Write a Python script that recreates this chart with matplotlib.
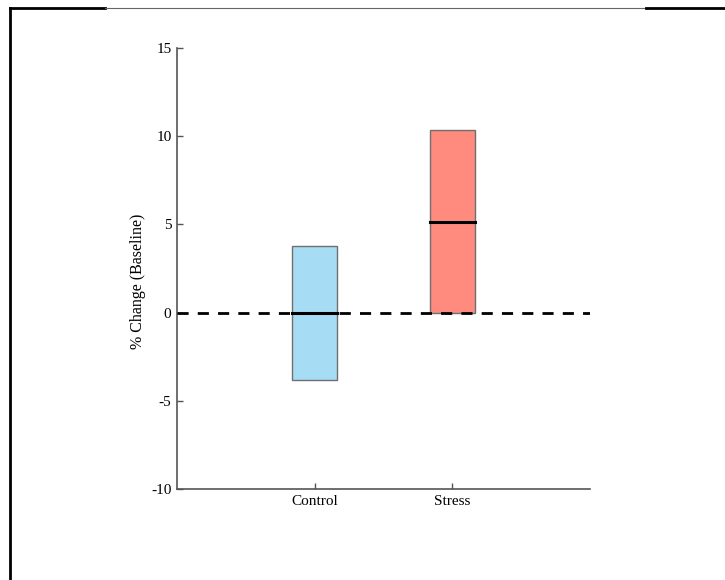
import matplotlib
matplotlib.use('Agg')
import matplotlib.pyplot as plt
from matplotlib.lines import Line2D
from matplotlib.patches import Rectangle

# values
groups = ['Control', 'Stress']
lower = [-3.8, 0.0]
upper = [3.8, 10.37]
median = [0.0, 5.15]
colors = ['#A6DDF4', '#FF8A7E']
yticks = [-10, -5, 0, 5, 10, 15]

plt.rcParams['font.family'] = ['Liberation Serif', 'DejaVu Serif']

fig = plt.figure(figsize=(7.25, 5.8), dpi=100)
ax = fig.add_axes([177/725, 1-489/580, (590-177)/725, (489-48)/580])

pos = [1, 2]
w = 0.33
for x, lo, hi, med, c in zip(pos, lower, upper, median, colors):
    ax.add_patch(Rectangle((x - w/2, lo), w, hi - lo, facecolor=c,
                           edgecolor='#6f6f6f', linewidth=1.0, zorder=2))
    ax.plot([x - w/2, x + w/2], [med, med], color='black', lw=2.2, zorder=4)

ax.plot([0, 3], [0, 0], color='black', lw=2, dashes=(4, 3.3), zorder=3)

ax.set_xlim(0, 3)
ax.set_ylim(-10, 15)
ax.set_xticks(pos)
ax.set_xticklabels(groups, fontsize=11)
ax.set_yticks(yticks)
ax.set_yticklabels([str(t) for t in yticks], fontsize=11)
ax.set_ylabel('% Change (Baseline)', fontsize=11.5)
ax.yaxis.set_label_coords(-0.075, 0.47)
ax.tick_params(direction='in', length=4, width=1, color='#555555', pad=4)

for s in ['top', 'right']:
    ax.spines[s].set_visible(False)
for s in ['left', 'bottom']:
    ax.spines[s].set_color('#555555')
    ax.spines[s].set_linewidth(1.2)

# screenshot frame lines
fig.add_artist(Line2D([10/725, 10/725], [0, 1-8/580], color='black', lw=2, transform=fig.transFigure))
fig.add_artist(Line2D([10/725, 105/725], [1-8/580, 1-8/580], color='black', lw=2, transform=fig.transFigure))
fig.add_artist(Line2D([105/725, 646/725], [1-8/580, 1-8/580], color='#666666', lw=0.8, transform=fig.transFigure))
fig.add_artist(Line2D([646/725, 1], [1-8/580, 1-8/580], color='black', lw=2, transform=fig.transFigure))

fig.savefig('out.png', dpi=100)
